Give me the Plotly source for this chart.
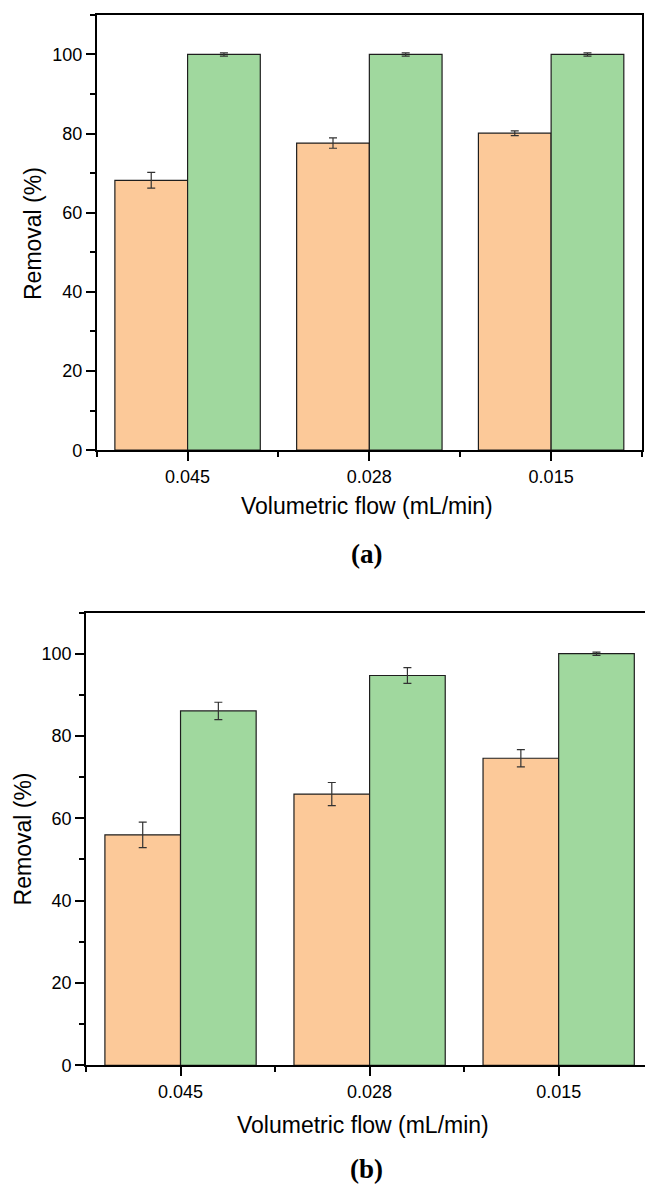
import plotly.graph_objects as go

categories = ["0.045", "0.028", "0.015"]
cat_pos = [0, 1, 2]

# Panel (a)
a_orange = [68.2, 77.6, 80.1]
a_orange_err = [2.0, 1.3, 0.6]
a_green = [100.0, 100.0, 100.0]
a_green_err = [0.4, 0.4, 0.4]

# Panel (b)
b_orange = [56.0, 65.9, 74.6]
b_orange_err = [3.1, 2.8, 2.1]
b_green = [86.1, 94.7, 100.0]
b_green_err = [2.1, 1.9, 0.4]

y_ticks = [0, 20, 40, 60, 80, 100]

ORANGE = "rgb(252,201,153)"
GREEN = "rgb(160,216,158)"
EDGE = "rgb(30,30,30)"
ERR = "rgb(50,50,50)"
FONT = "Liberation Sans, Arial, sans-serif"
SERIF = "Liberation Serif, Times New Roman, serif"

W, H = 645, 1193

fig = go.Figure()

def add_bars(xa, ya, orange, oerr, green, gerr):
    for vals, errs, col in ((orange, oerr, ORANGE), (green, gerr, GREEN)):
        fig.add_trace(go.Bar(
            x=cat_pos, y=vals, xaxis=xa, yaxis=ya,
            marker=dict(color=col, line=dict(color=EDGE, width=1.2)),
            error_y=dict(type="data", array=errs, visible=True,
                         color=ERR, thickness=1.2, width=4),
            showlegend=False,
            offsetgroup=col,
        ))

add_bars("x", "y", a_orange, a_orange_err, a_green, a_green_err)
add_bars("x2", "y2", b_orange, b_orange_err, b_green, b_green_err)

def px_x(p):
    return p / W

def px_y(p):
    return 1 - p / H

common_x = dict(
    tickvals=cat_pos, ticktext=categories,
    ticks="outside", ticklen=9, tickwidth=1.5, tickcolor="black",
    showline=True, linecolor="black", linewidth=1.8,
    showgrid=False, zeroline=False,
    tickfont=dict(family=FONT, size=18, color="black"),
    minor=dict(tickvals=[-0.5, 0.5, 1.5, 2.5], ticks="outside",
               ticklen=5, tickwidth=1.5, tickcolor="black", showgrid=False),
)
common_y = dict(
    range=[0, 110], tickvals=y_ticks,
    ticks="outside", ticklen=9, tickwidth=1.5, tickcolor="black",
    showline=True, linecolor="black", linewidth=1.8,
    showgrid=False, zeroline=False,
    tickfont=dict(family=FONT, size=18, color="black"),
    minor=dict(dtick=10, ticks="outside", ticklen=5, tickwidth=1.5,
               tickcolor="black", showgrid=False),
)

fig.update_layout(
    width=W, height=H,
    margin=dict(l=0, r=0, t=0, b=0),
    paper_bgcolor="white", plot_bgcolor="white",
    barmode="group", bargap=0.2, bargroupgap=0,
    font=dict(family=FONT, color="black"),
    xaxis=dict(common_x, domain=[px_x(96.7), px_x(642)], range=[-0.5, 2.5],
               anchor="y", mirror=True),
    yaxis=dict(common_y, domain=[px_y(454), px_y(15)], anchor="x", mirror=True),
    xaxis2=dict(common_x, domain=[px_x(86), 1.0],
                range=[-0.5, (645 - 180.7) / 189.0], anchor="y2", mirror=True),
    yaxis2=dict(common_y, domain=[px_y(1074.3), px_y(617.7)], anchor="x2",
                mirror=False),
)

ann = [
    dict(text="Volumetric flow (mL/min)", x=px_x(367), y=px_y(510.7),
         font=dict(family=FONT, size=23, color="black")),
    dict(text="Removal (%)", x=px_x(33), y=px_y(236), textangle=-90,
         font=dict(family=FONT, size=23, color="black")),
    dict(text="<b>(a)</b>", x=px_x(366.7), y=px_y(559),
         font=dict(family=SERIF, size=27, color="black")),
    dict(text="Volumetric flow (mL/min)", x=px_x(363), y=px_y(1135),
         font=dict(family=FONT, size=23, color="black")),
    dict(text="Removal (%)", x=px_x(22.5), y=px_y(846), textangle=-90,
         font=dict(family=FONT, size=23, color="black")),
    dict(text="<b>(b)</b>", x=px_x(366), y=px_y(1179),
         font=dict(family=SERIF, size=27, color="black")),
]
for a in ann:
    a.update(xref="paper", yref="paper", showarrow=False,
             xanchor="center", yanchor="middle")
fig.update_layout(annotations=ann)

fig.write_html(
    "out.html",
    config={"displayModeBar": False},
    post_script="document.body.style.margin='0';document.body.style.overflow='hidden';",
)
